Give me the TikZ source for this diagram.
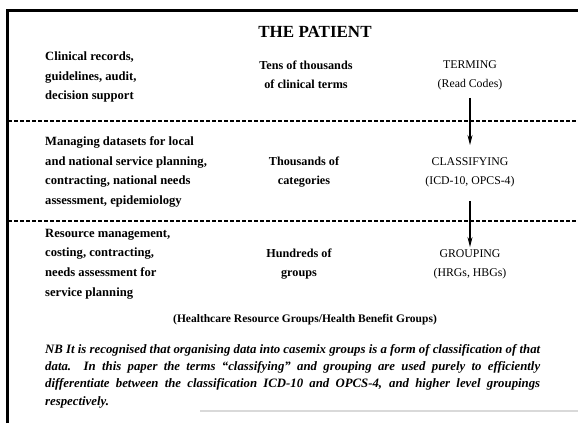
\documentclass[tikz,border=0pt]{standalone}
\usepackage{fontspec}
\setmainfont{Liberation Serif}
\usetikzlibrary{arrows.meta}
\begin{document}
\begin{tikzpicture}[x=1pt,y=-1pt]%
% frame, row rules and the three coding levels
\ifx\figlw\undefined\newdimen\figlw\fi
\global\def\figdraw{\draw[line width=\figlw]}
\figlw=1.1pt
\tikzset{
  lbl/.style={inner sep=0pt, font=\bfseries\fontsize{12.2}{19.5}\selectfont, align=center},
  lcol/.style={lbl, anchor=west, align=left, font=\bfseries\fontsize{12.6}{19.7}\selectfont},
  code/.style={lbl, font=\fontsize{11.8}{19.2}\selectfont},
  rowrule/.style={line width=\figlw, dash pattern=on 3.5pt off 2.5pt},
  flow/.style={line width=\figlw, -{Stealth[length=10pt,width=5pt]}}
}
\useasboundingbox (0,0) rectangle (578,423);
\figdraw[line width=3pt] (7,423) -- (7,10) -- (578,10);
\figdraw[gray!30] (200,411) -- (578,411);
\coordinate (r1w) at (8,121);
\coordinate (r1e) at (578,121);
\coordinate (r2w) at (8,221);
\coordinate (r2e) at (578,221);
\draw[rowrule] (r1w) -- (r1e);
\draw[rowrule] (r2w) -- (r2e);
\node[lbl, font=\bfseries\fontsize{17}{18}\selectfont] (patient) at (315,32) {THE PATIENT};
\node[lcol] (use1) at (45,77) {Clinical records,\\guidelines, audit,\\decision support};
\node[lbl] (size1) at (306,75) {Tens of thousands\\of clinical terms};
\node[code] (term) at (470,75) {TERMING\\(Read Codes)};
\node[lcol] (use2) at (45,172) {Managing datasets for local\\and national service planning,\\contracting, national needs\\assessment, epidemiology};
\node[lbl] (size2) at (304,172) {Thousands of\\categories};
\node[code] (classify) at (470,172) {CLASSIFYING\\(ICD-10, OPCS-4)};
\node[lcol] (use3) at (45,264) {Resource management,\\costing, contracting,\\needs assessment for\\service planning};
\node[lbl] (size3) at (299,264) {Hundreds of\\groups};
\node[code] (group) at (470,264) {GROUPING\\(HRGs, HBGs)};
\node[lbl, font=\bfseries\fontsize{11.5}{14}\selectfont] (expand) at (305,320) {(Healthcare Resource Groups/Health Benefit Groups)};
\node[inner sep=0pt, anchor=north west, text width=495pt, align=justify,
  font=\bfseries\itshape\fontsize{12.8}{17.3}\selectfont] (nb) at (45,344)
  {NB It is recognised that organising data into casemix groups is a form of classification of that\linebreak
   data.\ \ In this paper the terms ``classifying'' and grouping are used purely to efficiently\linebreak
   differentiate between the classification ICD-10 and OPCS-4, and higher level groupings\linebreak
   respectively.};
\draw[flow, shorten <=8pt, shorten >=12pt] (term.south) -- (classify.north);
\draw[flow, shorten <=14pt, shorten >=2pt] (classify.south) -- (group.north);
\end{tikzpicture}
\end{document}
